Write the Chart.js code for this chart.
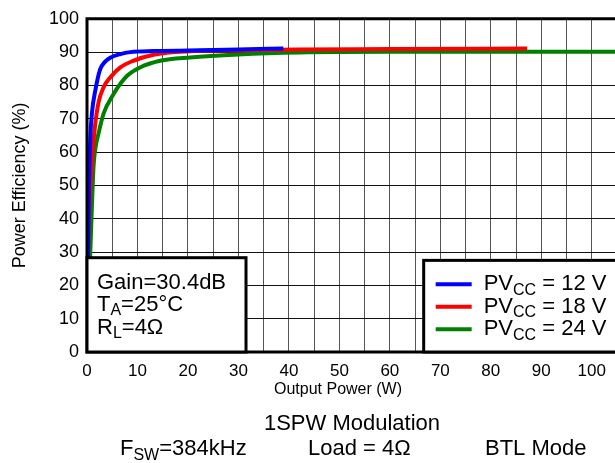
<!DOCTYPE html>
<html>
<head>
<meta charset="utf-8">
<script src="https://cdn.jsdelivr.net/npm/chart.js@4/dist/chart.umd.min.js"></script>
<style>
  html, body { margin: 0; padding: 0; background: #fff; }
  canvas { display: block; }
</style>
</head>
<body>
<canvas id="chart" width="615" height="463"></canvas>
<script>
// Output power (W) and efficiency (%) for each supply voltage
const power12 = [0.1, 0.2, 0.4, 0.65, 1.0, 1.65, 2.6, 3.5, 4.6, 6.6, 8.6, 13.2, 20, 30, 38.9];
const eff12   = [22, 30, 50, 64, 72, 78.5, 84.8, 87.0, 88.3, 89.4, 90.0, 90.3, 90.5, 90.8, 91.1];

const power18 = [0.15, 0.3, 0.6, 1.0, 1.6, 2.3, 3.3, 4.6, 6.6, 9, 13.2, 19.8, 30, 42, 60, 87.2];
const eff18   = [22, 36, 48, 58, 68, 75, 79.5, 82.4, 85.4, 87.3, 89.2, 90.2, 90.5, 90.8, 90.9, 91.1];

const power24 = [0.3, 0.6, 1.0, 1.3, 1.65, 2.3, 3.3, 5.3, 6.6, 8, 10.5, 14.5, 20.4, 30, 42, 60, 80, 104.6];
const eff24   = [20, 28, 45, 55.8, 61, 65.7, 71.6, 77.5, 80.5, 83, 85.4, 87.4, 88.4, 89.3, 89.9, 90.1, 90.1, 90.1];

const seriesLabels = ['12 V', '18 V', '24 V'];
const seriesColors = ['#0000ff', '#ff0000', '#008000'];

// grid every 5 W, labels every 10 W
const xGrid = [0, 5, 10, 15, 20, 25, 30, 35, 40, 45, 50, 55, 60, 65, 70, 75, 80, 85, 90, 95, 100];
const xTicks = [0, 10, 20, 30, 40, 50, 60, 70, 80, 90, 100];

const FONT = '"Liberation Sans", Arial, sans-serif';

function pts(xs, ys) {
  return xs.map((x, i) => ({ x: x, y: ys[i] }));
}

// text with a subscript part: parts = [[text, isSub], ...]
function drawRich(ctx, parts, x, y, size) {
  let cx = x;
  parts.forEach(p => {
    const sub = p[1];
    ctx.font = (sub ? Math.round(size * 0.72) : size) + 'px ' + FONT;
    ctx.fillText(p[0], cx, sub ? y + size * 0.28 : y);
    cx += ctx.measureText(p[0]).width;
  });
}

const overlay = {
  id: 'overlay',
  afterDatasetsDraw(chart) {
    const ctx = chart.ctx;
    const a = chart.chartArea;
    const xs = chart.scales.x, ys = chart.scales.y;
    ctx.save();

    // plot frame
    ctx.strokeStyle = '#000';
    ctx.lineWidth = 3;
    ctx.beginPath();
    ctx.moveTo(chart.width + 5, a.top);
    ctx.lineTo(a.left, a.top);
    ctx.lineTo(a.left, a.bottom);
    ctx.lineTo(chart.width + 5, a.bottom);
    ctx.stroke();

    // condition box
    const bx1 = a.left, by1 = ys.getPixelForValue(28.3), bx2 = xs.getPixelForValue(31.5);
    ctx.fillStyle = '#fff';
    ctx.fillRect(bx1, by1, bx2 - bx1, a.bottom - by1);
    ctx.strokeRect(bx1, by1, bx2 - bx1, a.bottom - by1);

    ctx.fillStyle = '#000';
    ctx.textBaseline = 'middle';
    ctx.textAlign = 'left';
    drawRich(ctx, [['Gain=30.4dB', false]], bx1 + 10, by1 + 25, 22);
    drawRich(ctx, [['T', false], ['A', true], ['=25°C', false]], bx1 + 10, by1 + 47, 22);
    drawRich(ctx, [['R', false], ['L', true], ['=4Ω', false]], bx1 + 10, by1 + 70, 22);

    // legend box
    const lx1 = xs.getPixelForValue(66.7), ly1 = ys.getPixelForValue(27.5);
    ctx.fillStyle = '#fff';
    ctx.fillRect(lx1, ly1, chart.width + 5 - lx1, a.bottom - ly1);
    ctx.strokeRect(lx1, ly1, chart.width + 5 - lx1, a.bottom - ly1);
    chart.data.datasets.forEach((ds, i) => {
      const yy = ly1 + 24 + i * 22.5;
      ctx.strokeStyle = ds.borderColor;
      ctx.lineWidth = 4;
      ctx.beginPath();
      ctx.moveTo(lx1 + 12, yy);
      ctx.lineTo(lx1 + 48, yy);
      ctx.stroke();
      ctx.fillStyle = '#000';
      drawRich(ctx, [['PV', false], ['CC', true], [' = ' + seriesLabels[i], false]], lx1 + 60, yy, 22);
    });

    // x axis title (the original plot continues past the right edge)
    ctx.fillStyle = '#000';
    ctx.textAlign = 'center';
    ctx.font = '16px ' + FONT;
    ctx.fillText('Output Power (W)', 338, 390);

    // modulation notes under the chart
    ctx.font = '22px ' + FONT;
    ctx.fillText('1SPW Modulation', 352, 424);
    ctx.textAlign = 'left';
    drawRich(ctx, [['F', false], ['SW', true], ['=384kHz', false]], 120, 449, 22);
    drawRich(ctx, [['Load = 4Ω', false]], 308, 449, 22);
    drawRich(ctx, [['BTL Mode', false]], 485, 449, 22);
    ctx.restore();
  }
};

new Chart(document.getElementById('chart'), {
  type: 'line',
  data: {
    datasets: [
      { label: seriesLabels[0], data: pts(power12, eff12), borderColor: seriesColors[0] },
      { label: seriesLabels[1], data: pts(power18, eff18), borderColor: seriesColors[1] },
      { label: seriesLabels[2], data: pts(power24, eff24), borderColor: seriesColors[2] },
    ].map(d => Object.assign(d, { borderWidth: 4, pointRadius: 0, fill: false, cubicInterpolationMode: 'monotone' })),
  },
  options: {
    responsive: false,
    animation: false,
    layout: { padding: { top: 14, left: 0, right: 0, bottom: 0 } },
    plugins: { legend: { display: false }, tooltip: { enabled: false } },
    scales: {
      x: {
        type: 'linear', min: 0, max: 104.6,
        grid: { color: '#555', drawTicks: false },
        border: { display: false },
        afterBuildTicks: s => { s.ticks = xGrid.map(v => ({ value: v })); },
        ticks: {
          autoSkip: false, maxRotation: 0, padding: 9, color: '#000',
          font: { family: FONT, size: 17 },
          callback: v => xTicks.includes(v) ? v : ''
        },
        afterFit: s => { s.height = 111; }
      },
      y: {
        min: 0, max: 100,
        grid: { color: '#111', drawTicks: false },
        border: { display: false },
        ticks: { stepSize: 10, padding: 8, color: '#000', font: { family: FONT, size: 18 } },
        title: { display: true, text: 'Power Efficiency (%)', color: '#000', font: { family: FONT, size: 18 }, padding: { top: 9, bottom: 0 } },
        afterFit: s => { s.width = 87; }
      }
    }
  },
  plugins: [overlay]
});
</script>
</body>
</html>
